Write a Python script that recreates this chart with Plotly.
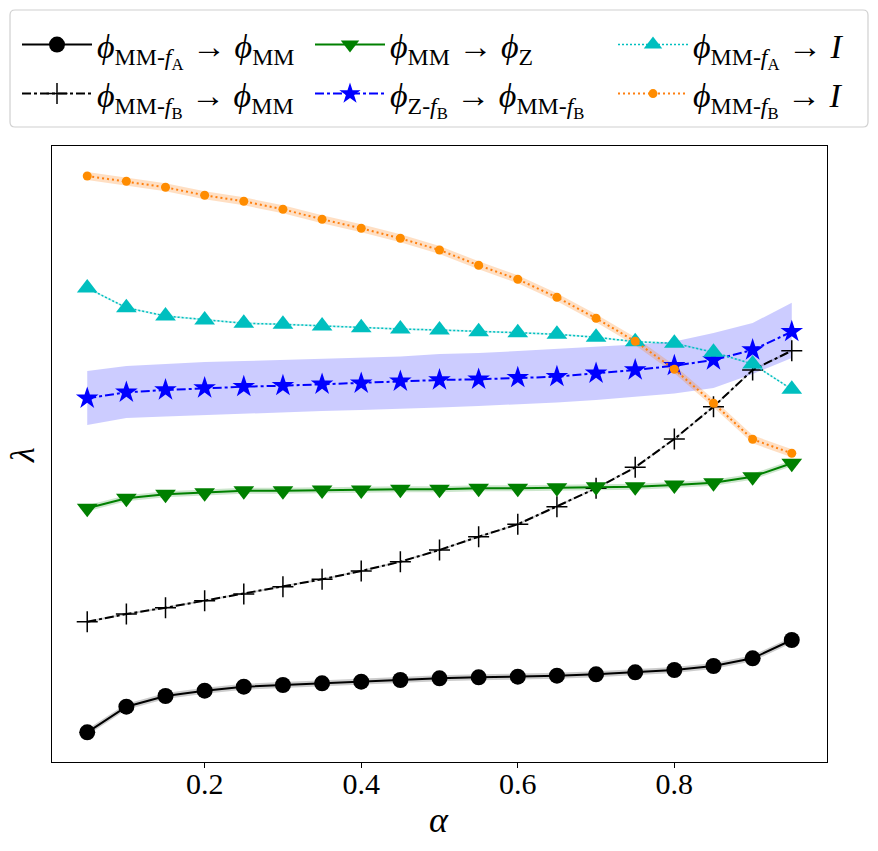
import plotly.graph_objects as go

alpha = [0.05, 0.10, 0.15, 0.20, 0.25, 0.30, 0.35, 0.40, 0.45, 0.50,
         0.55, 0.60, 0.65, 0.70, 0.75, 0.80, 0.85, 0.90, 0.95]

# lambda values (arbitrary units, y axis has no tick labels)
mmfa_to_mm = [29.7, 55.3, 66, 71.3, 75.3, 77, 78.7, 80.3, 82, 83.7,
              84.7, 85.3, 86.3, 87.7, 89.7, 92, 96, 103.7, 122]
mmfa_to_mm_sd = [3, 3, 3, 3, 3, 3, 3, 3, 3, 3, 3, 3, 3, 3, 3, 3, 3, 3, 3]

mmfb_to_mm = [140.3, 148, 154.3, 161.3, 168, 175.3, 182.7, 191, 200.3, 212,
              225.3, 237.7, 255.3, 273.7, 294.7, 323, 355.3, 392, 411.3]
mmfb_to_mm_sd = [1, 1, 1, 1, 1, 1, 1, 1, 1, 1, 1, 1, 1, 1, 1, 1, 1, 1, 1]

mm_to_z = [253.7, 263.7, 267.7, 269.3, 271.3, 271.3, 272, 272, 272.7, 272.7,
           273.7, 273.7, 274.3, 275.3, 275.3, 277, 279.3, 285.3, 298.7]
mm_to_z_sd = [3, 3, 3, 3, 3, 3, 3, 3, 3, 3, 3, 3, 3, 3, 3, 3, 3, 3, 3]

zfb_to_mmfb = [363.7, 369.7, 372, 374, 375.3, 376.3, 377.7, 378.7, 380.7, 382,
               382.7, 384.3, 385.3, 388.7, 392, 396.3, 402, 412, 430.3]
zfb_upper = [391, 396, 398, 400, 401, 402, 403, 404, 405.5, 408,
             409, 411, 413, 415, 417.5, 420.5, 429, 439, 459.3]
zfb_lower = [337, 344, 345.5, 347, 348.5, 350, 351, 352, 353, 354.5,
             356, 357.5, 359.5, 362, 365, 368.5, 374, 388, 404]

mmfa_to_i = [474, 454.3, 446, 442, 438.7, 437.7, 436, 434.3, 433, 432,
             430.3, 429.3, 427.7, 424.7, 420.3, 418.7, 409.7, 398, 372.7]
mmfa_to_i_sd = [1, 1, 1, 1, 1, 1, 1, 1, 1, 1, 1, 1, 1, 1, 1, 1, 1, 1, 1]

mmfb_to_i = [586, 580.7, 574.7, 566.7, 560.7, 552.7, 542.7, 533.7, 523.7, 512,
             496.7, 482.7, 464.7, 443.7, 420.7, 392.7, 358.7, 322.7, 308.7]
mmfb_to_i_sd = [4, 4, 4, 4, 4, 4, 4, 4, 4, 4, 4, 4, 4, 4, 4, 4, 4, 4, 4]

x_ticks = [0.2, 0.4, 0.6, 0.8]
x_ticklabels = ["0.2", "0.4", "0.6", "0.8"]

labels = [
    "<i>ϕ</i><sub>MM-<i>f</i><sub>A</sub></sub> → <i>ϕ</i><sub>MM</sub>",
    "<i>ϕ</i><sub>MM-<i>f</i><sub>B</sub></sub> → <i>ϕ</i><sub>MM</sub>",
    "<i>ϕ</i><sub>MM</sub> → <i>ϕ</i><sub>Z</sub>",
    "<i>ϕ</i><sub>Z-<i>f</i><sub>B</sub></sub> → <i>ϕ</i><sub>MM-<i>f</i><sub>B</sub></sub>",
    "<i>ϕ</i><sub>MM-<i>f</i><sub>A</sub></sub> → <i>I</i>",
    "<i>ϕ</i><sub>MM-<i>f</i><sub>B</sub></sub> → <i>I</i>",
]

FONT = "Liberation Serif"
W, H = 878, 851
L, R, T, B = 52, 51, 146, 89
fig = go.Figure()


def band(upper, lower, fill):
    fig.add_trace(go.Scatter(x=alpha, y=upper, mode="lines", line=dict(width=0),
                             showlegend=False, hoverinfo="skip"))
    fig.add_trace(go.Scatter(x=alpha, y=lower, mode="lines", line=dict(width=0),
                             fill="tonexty", fillcolor=fill, showlegend=False,
                             hoverinfo="skip"))


def pm(vals, sd, sign):
    return [v + sign * s for v, s in zip(vals, sd)]


band(pm(mmfa_to_mm, mmfa_to_mm_sd, 1), pm(mmfa_to_mm, mmfa_to_mm_sd, -1), "rgba(0,0,0,0.2)")
band(pm(mmfb_to_mm, mmfb_to_mm_sd, 1), pm(mmfb_to_mm, mmfb_to_mm_sd, -1), "rgba(0,0,0,0.2)")
band(pm(mm_to_z, mm_to_z_sd, 1), pm(mm_to_z, mm_to_z_sd, -1), "rgba(0,128,0,0.2)")
band(zfb_upper, zfb_lower, "rgba(0,0,255,0.2)")
band(pm(mmfa_to_i, mmfa_to_i_sd, 1), pm(mmfa_to_i, mmfa_to_i_sd, -1), "rgba(0,191,191,0.2)")
band(pm(mmfb_to_i, mmfb_to_i_sd, 1), pm(mmfb_to_i, mmfb_to_i_sd, -1), "rgba(255,127,14,0.25)")

fig.add_trace(go.Scatter(x=alpha, y=mmfa_to_mm, name=labels[0], mode="lines+markers",
                         legend="legend",
                         line=dict(color="black", width=2),
                         marker=dict(symbol="circle", size=16, color="black")))
fig.add_trace(go.Scatter(x=alpha, y=mmfb_to_mm, name=labels[1], mode="lines+markers",
                         legend="legend2",
                         line=dict(color="black", width=2, dash="dashdot"),
                         marker=dict(symbol="cross-thin", size=15,
                                     line=dict(color="black", width=1.5))))
fig.add_trace(go.Scatter(x=alpha, y=mm_to_z, name=labels[2], mode="lines+markers",
                         legend="legend3",
                         line=dict(color="green", width=2),
                         marker=dict(symbol="triangle-down", size=18, color="green")))
fig.add_trace(go.Scatter(x=alpha, y=zfb_to_mmfb, name=labels[3], mode="lines+markers",
                         legend="legend4",
                         line=dict(color="blue", width=2, dash="dashdot"),
                         marker=dict(symbol="star", size=17, color="blue")))
fig.add_trace(go.Scatter(x=alpha, y=mmfa_to_i, name=labels[4], mode="lines+markers",
                         legend="legend5",
                         line=dict(color="#00bfbf", width=1.5, dash="2px,2px"),
                         marker=dict(symbol="triangle-up", size=18, color="#00bfbf")))
fig.add_trace(go.Scatter(x=alpha, y=mmfb_to_i, name=labels[5], mode="lines+markers",
                         legend="legend6",
                         line=dict(color="#ff7f0e", width=2, dash="2px,3px"),
                         marker=dict(symbol="circle", size=9, color="#ff8c00")))

# legend positions (pixels: left x of entry, centre y of row)
col_x = [17, 310, 613]
row_y = [45, 94]
legend_keys = ["legend", "legend2", "legend3", "legend4", "legend5", "legend6"]
legend_layout = {}
for i, key in enumerate(legend_keys):
    c, r = divmod(i, 2)
    legend_layout[key] = dict(
        xref="container", yref="container",
        x=col_x[c] / W, y=1 - row_y[r] / H, xanchor="left", yanchor="middle",
        bgcolor="rgba(0,0,0,0)", borderwidth=0, itemwidth=70,
        font=dict(family=FONT, size=34, color="black"))

# legend frame (rounded rectangle) in paper coords
pw, ph = W - L - R, H - T - B
def px2paper(x, y):
    return (x - L) / pw, (H - B - y) / ph

x0, y0 = 10, 10
x1, y1 = 868, 127
rad = 5
def P(x, y):
    a, b = px2paper(x, y)
    return f"{a:.5f},{b:.5f}"
frame = (f"M{P(x0 + rad, y0)} L{P(x1 - rad, y0)} Q{P(x1, y0)} {P(x1, y0 + rad)} "
         f"L{P(x1, y1 - rad)} Q{P(x1, y1)} {P(x1 - rad, y1)} L{P(x0 + rad, y1)} "
         f"Q{P(x0, y1)} {P(x0, y1 - rad)} L{P(x0, y0 + rad)} Q{P(x0, y0)} {P(x0 + rad, y0)} Z")

ax_x, ax_y = px2paper(439, 820)
ay_x, ay_y = px2paper(22, 455)

fig.update_layout(
    width=W, height=H,
    margin=dict(l=L, r=R, t=T, b=B, autoexpand=False),
    paper_bgcolor="white", plot_bgcolor="white",
    font=dict(family=FONT, color="black", size=24),
    shapes=[dict(type="path", xref="paper", yref="paper", path=frame,
                 line=dict(color="#d0d0d0", width=1.2), layer="above")],
    annotations=[
        dict(text="<i>α</i>", xref="paper", yref="paper", x=ax_x, y=ax_y,
             xanchor="center", yanchor="middle", showarrow=False,
             font=dict(family=FONT, size=36)),
        dict(text="<i>λ</i>", xref="paper", yref="paper", x=ay_x, y=ay_y,
             xanchor="center", yanchor="middle", showarrow=False, textangle=-90,
             font=dict(family=FONT, size=34)),
    ],
    xaxis=dict(range=[0.005, 0.995], tickvals=x_ticks, ticktext=x_ticklabels,
               ticks="outside", ticklen=5, tickwidth=1, tickcolor="black",
               showline=True, linecolor="black", linewidth=1, mirror=True,
               showgrid=False, zeroline=False, automargin=False,
               ticklabelstandoff=-10,
               tickfont=dict(family=FONT, size=30)),
    yaxis=dict(range=[0, 616], showticklabels=False, ticks="",
               showline=True, linecolor="black", linewidth=1, mirror=True,
               showgrid=False, zeroline=False, automargin=False),
    **legend_layout,
)

fig.write_html("out.html", config={"displayModeBar": False},
               post_script="document.body.style.margin='0px';")
